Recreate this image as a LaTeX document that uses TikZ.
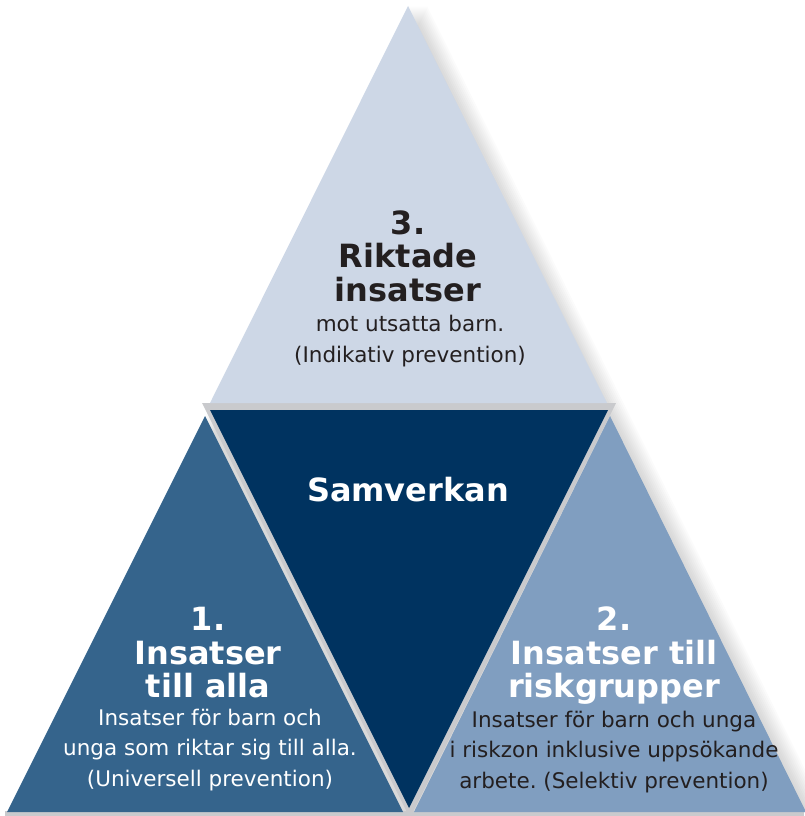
\documentclass[tikz,border=0pt]{standalone}
\usepackage{fontspec}
\setmainfont{DejaVu Sans}
\frenchspacing
\definecolor{toplight}{HTML}{CDD7E6}
\definecolor{leftblue}{HTML}{35648C}
\definecolor{rightblue}{HTML}{809EC0}
\definecolor{navy}{HTML}{003360}
\definecolor{gapgray}{HTML}{C9CACD}
\definecolor{txtdark}{HTML}{231F20}

\begin{document}
\begin{tikzpicture}[x=1pt,y=-1pt,
    head/.style={font=\bfseries\fontsize{32}{33.5}\selectfont,align=center,inner sep=0pt},
    body/.style={font=\fontsize{21.5}{30.5}\selectfont,align=center,inner sep=0pt}]
  \useasboundingbox (0,0) rectangle (805,816);
  % soft shadow to the right
  \foreach \d in {2,4,...,20}
    \fill[black,opacity=0.016] (407+\d,6) -- (806+\d,812) -- (8+\d,812) -- cycle;
  % gaps between the parts
  \fill[gapgray] (202,403) -- (616,403) -- (410,818) -- cycle;
  \fill[gapgray] (5,811) rectangle (804,816);
  % the four triangles
  \fill[toplight] (408,6) -- (607,403) -- (210,403) -- cycle;
  \fill[navy] (210,410) -- (608,410) -- (409,808) -- cycle;
  \fill[leftblue] (205,416) -- (403,812) -- (7,812) -- cycle;
  \fill[rightblue] (610,416) -- (806,812) -- (414,812) -- cycle;
  % texts
  \node[head,txtdark] (tophead) at (408,256) {3.\\Riktade\\insatser};
  \node[body,txtdark] (topbody) at (410,341) {mot utsatta barn.\\(Indikativ prevention)};
  \node[head,white] (mid) at (408,490) {Samverkan};
  \node[head,white] (lefthead) at (208,653) {1.\\Insatser\\till alla};
  \node[body,white] (leftbody) at (210,750) {Insatser för barn och\\unga som riktar sig till alla.\\(Universell prevention)};
  \node[head,white] (righthead) at (614,656) {2.\\Insatser till\\riskgrupper};
  \node[body,txtdark] (rightbody) at (614,752) {Insatser för barn och unga\\i riskzon inklusive uppsökande\\arbete. (Selektiv prevention)};
\end{tikzpicture}
\end{document}
